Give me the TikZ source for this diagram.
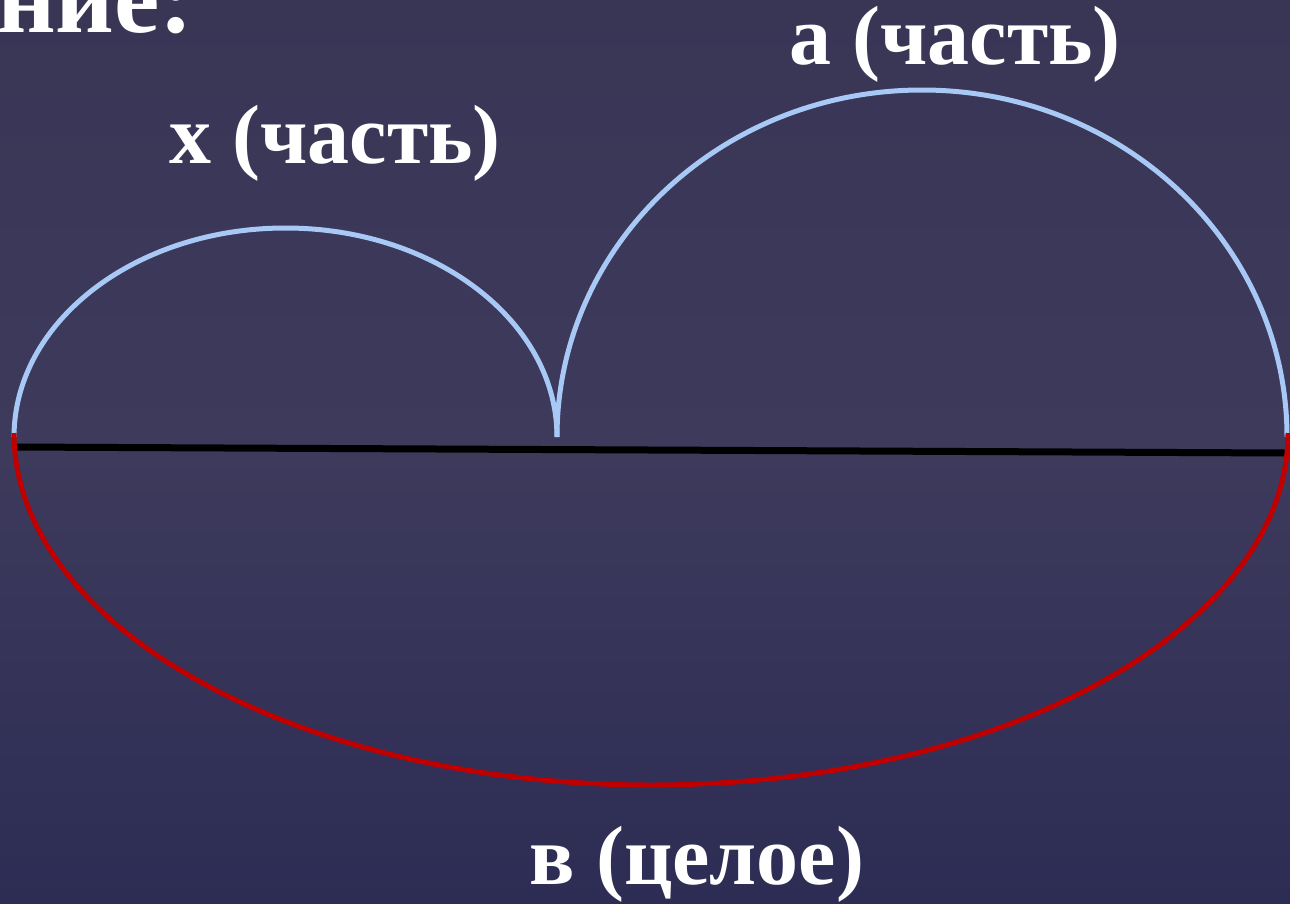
\documentclass[tikz,border=0pt]{standalone}
\usepackage{fontspec}
\setmainfont{Liberation Serif}
\begin{document}
\begin{tikzpicture}[x=1pt,y=-1pt,
  lbl/.style={text=white,font=\fontsize{84}{88}\selectfont\bfseries,inner sep=0pt,anchor=base},
  titlelbl/.style={text=white,font=\fontsize{102}{106}\selectfont\bfseries,inner sep=0pt,anchor=base west},
  partarc/.style={draw=partblue,line width=5pt},
  wholearc/.style={draw=wholered,line width=5pt},
  baseline/.style={draw=black,line width=7pt}]
\definecolor{partblue}{RGB}{168,200,245}
\definecolor{wholered}{RGB}{192,0,0}
\definecolor{bgtop}{RGB}{57,53,85}
\definecolor{bgmid}{RGB}{61,58,92}
\definecolor{bgbot}{RGB}{45,44,84}
\useasboundingbox (0,0) rectangle (1290,903);
\shade[top color=bgtop,bottom color=bgbot,middle color=bgmid] (0,0) rectangle (1290,903);
% coordinates
\coordinate (L) at (14,437);
\coordinate (M) at (557,437);
\coordinate (lineL) at (14,447);
\coordinate (lineR) at (1286,453);
\coordinate (redL) at (14,433);
% black base line
\draw[baseline] (lineL) -- (lineR);
% blue arcs
\draw[partarc] (L) arc[start angle=180,end angle=360,x radius=271.5,y radius=209];
\draw[partarc] (M) arc[start angle=180,end angle=360,x radius=365,y radius=347];
% red arc
\draw[wholearc] (redL) arc[start angle=180,end angle=0,x radius=637,y radius=352];
% texts
\node[titlelbl] (title) at (-3,32) {ние:};
\node[lbl] (xpart) at (335,163) {x (часть)};
\node[lbl] (apart) at (955,64) {а (часть)};
\node[lbl] (whole) at (697,884) {в (целое)};
\end{tikzpicture}
\end{document}
